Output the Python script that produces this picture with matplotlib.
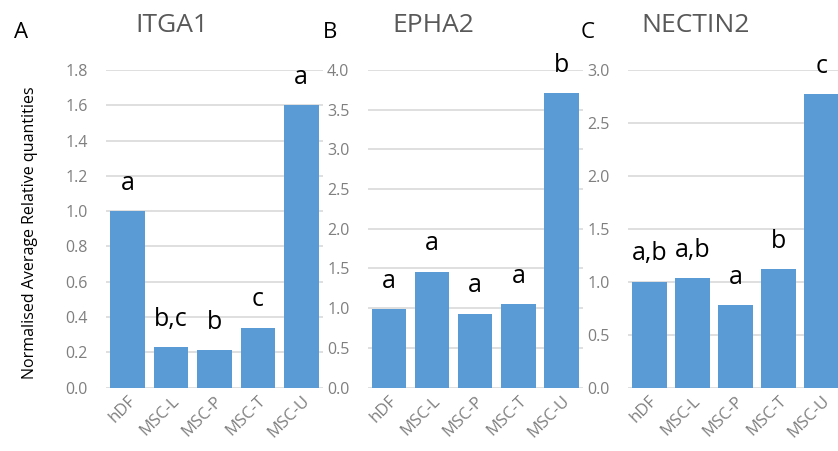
import matplotlib.pyplot as plt
import numpy as np

plt.rcParams['font.family'] = ['Open Sans', 'DejaVu Sans']

groups = ["hDF", "MSC-L", "MSC-P", "MSC-T", "MSC-U"]

itga1 = [1.0, 0.23, 0.21, 0.34, 1.60]
epha2 = [0.99, 1.46, 0.93, 1.05, 3.71]
nectin2 = [1.0, 1.03, 0.78, 1.12, 2.77]

itga1_letters = ["a", "b,c", "b", "c", "a"]
epha2_letters = ["a", "a", "a", "a", "b"]
nectin2_letters = ["a,b", "a,b", "a", "b", "c"]

genes = ["ITGA1", "EPHA2", "NECTIN2"]
panel_tags = ["A", "B", "C"]

bar_color = "#5b9bd5"
grid_color = "#d9d9d9"
tick_color = "#7f7f7f"
title_color = "#595959"

W, H = 838, 451
fig = plt.figure(figsize=(W / 100, H / 100), dpi=100)

# pixel layout of each panel: (left, right, ymax, ystep, title x, tag x)
layout = [
    (106, 323, 1.8, 0.2, 172, 21),
    (367.5, 583, 4.0, 0.5, 433, 330),
    (627.7, 843.3, 3.0, 0.5, 696, 588),
]
values = [itga1, epha2, nectin2]
letters = [itga1_letters, epha2_letters, nectin2_letters]

y0, y1 = 387.5, 70
x = np.arange(len(groups))

for i in range(3):
    left, right, ymax, ystep, tx, gx = layout[i]
    ax = fig.add_axes([left / W, 1 - y0 / H, (right - left) / W, (y0 - y1) / H])
    ax.bar(x, values[i], width=0.8, color=bar_color, zorder=2)
    ax.set_xlim(-0.5, len(groups) - 0.5)
    ax.set_ylim(0, ymax)
    ticks = np.arange(0, ymax + ystep / 2, ystep)
    ax.set_yticks(ticks)
    ax.set_yticklabels([f"{v:.1f}" for v in ticks])
    ax.grid(True, axis="y", color=grid_color, lw=1.2, zorder=0)
    ax.set_axisbelow(True)
    for s in ax.spines.values():
        s.set_visible(False)
    ax.tick_params(axis="y", length=0, pad=13, labelsize=11.5, labelcolor=tick_color)
    ax.tick_params(axis="x", length=0, pad=4)
    ax.set_xticks(x)
    ax.set_xticklabels(groups, rotation=45, ha="right", rotation_mode="anchor",
                       fontsize=12, color=tick_color)
    for xi, v, lab in zip(x, values[i], letters[i]):
        ax.annotate(lab, (xi, v), xytext=(0, 11), textcoords="offset points",
                    ha="center", va="bottom", fontsize=18, color="black",
                    annotation_clip=False)
    fig.text(tx / W, 1 - 25 / H, genes[i], ha="center", va="center",
             fontsize=19, color=title_color)
    fig.text(gx / W, 1 - 33 / H, panel_tags[i], ha="center", va="center",
             fontsize=16, color="black")

fig.text(30 / W, 1 - 233 / H, "Normalised Average Relative quantities",
         rotation=90, ha="center", va="center", fontsize=11.5, color="black")

fig.savefig("out.png", dpi=100)
